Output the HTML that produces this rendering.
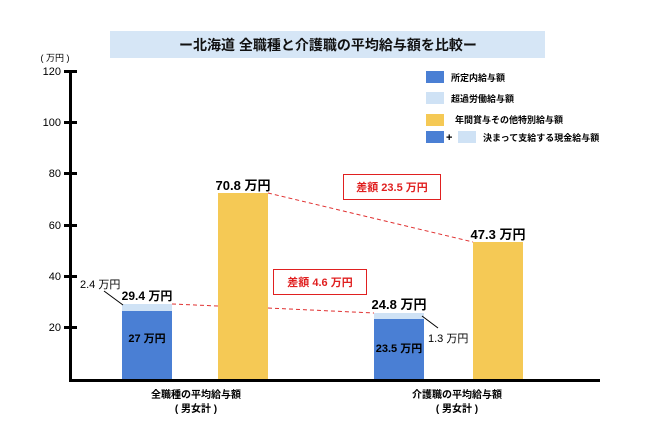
<!DOCTYPE html>
<html><head><meta charset="utf-8"><style>
body{margin:0;background:#fff;width:660px;height:440px;overflow:hidden;font-family:"Liberation Sans","Noto Sans CJK JP",sans-serif}
</style></head><body>
<svg width="660" height="440" xmlns="http://www.w3.org/2000/svg" font-family="Liberation Sans, Noto Sans CJK JP, sans-serif" font-weight="bold">
<rect x="110" y="31" width="435" height="27" fill="#d6e6f6"/>
<text x="328" y="50" font-size="14" text-anchor="middle" fill="#111">ー北海道 全職種と介護職の平均給与額を比較ー</text>
<text x="55" y="61" font-size="9" text-anchor="middle" font-weight="normal">( 万円 )</text>
<line x1="70.5" y1="71" x2="70.5" y2="381" stroke="#000" stroke-width="3"/>
<line x1="69" y1="380.5" x2="600" y2="380.5" stroke="#000" stroke-width="3"/>
<g stroke="#000" stroke-width="3">
<line x1="64" y1="71.5" x2="77" y2="71.5"/><line x1="64" y1="122.5" x2="77" y2="122.5"/><line x1="64" y1="173.5" x2="77" y2="173.5"/><line x1="64" y1="225.5" x2="77" y2="225.5"/><line x1="64" y1="276.5" x2="77" y2="276.5"/><line x1="64" y1="327.5" x2="77" y2="327.5"/></g>
<g font-size="11" font-weight="normal" text-anchor="end">
<text x="61" y="75">120</text><text x="61" y="126">100</text><text x="61" y="177">80</text><text x="61" y="229">60</text><text x="61" y="280">40</text><text x="61" y="331">20</text></g>
<rect x="122" y="304" width="50" height="75" fill="#cfe2f5"/>
<rect x="122" y="311" width="50" height="68" fill="#4a7fd4"/>
<rect x="218" y="193" width="50" height="186" fill="#f5c955"/>
<rect x="374" y="313" width="50" height="66" fill="#cfe2f5"/>
<rect x="374" y="319" width="50" height="60" fill="#4a7fd4"/>
<rect x="473" y="242" width="50" height="137" fill="#f5c955"/>
<g stroke="#e03030" stroke-dasharray="4,3" stroke-width="1" fill="none">
<line x1="268" y1="193" x2="473" y2="242"/><line x1="172" y1="304" x2="218" y2="306"/><line x1="268" y1="308" x2="374" y2="313"/></g>
<rect x="343.5" y="174.5" width="97" height="25" fill="#fff" stroke="#e02020"/>
<text x="392" y="191" font-size="11" fill="#e02020" text-anchor="middle">差額 23.5 万円</text>
<rect x="273.5" y="269.5" width="93" height="25" fill="#fff" stroke="#e02020"/>
<text x="320" y="286" font-size="11" fill="#e02020" text-anchor="middle">差額 4.6 万円</text>
<text x="243" y="190" font-size="13" text-anchor="middle">70.8 万円</text>
<text x="498" y="239" font-size="13" text-anchor="middle">47.3 万円</text>
<text x="147" y="300" font-size="12" text-anchor="middle">29.4 万円</text>
<text x="399" y="309" font-size="13" text-anchor="middle">24.8 万円</text>
<text x="80" y="288" font-size="11" font-weight="normal">2.4 万円</text>
<line x1="104" y1="291" x2="123" y2="305" stroke="#000"/>
<text x="428" y="342" font-size="11" font-weight="normal">1.3 万円</text>
<line x1="422" y1="316" x2="438" y2="328" stroke="#000"/>
<text x="147" y="342" font-size="11" text-anchor="middle">27 万円</text>
<text x="399" y="352" font-size="11" text-anchor="middle">23.5 万円</text>
<g font-size="10" text-anchor="middle">
<text x="196" y="398">全職種の平均給与額</text><text x="196" y="412">( 男女計 )</text>
<text x="457" y="398">介護職の平均給与額</text><text x="457" y="412">( 男女計 )</text></g>
<rect x="426" y="71" width="18" height="12" fill="#4a7fd4"/>
<rect x="426" y="92" width="18" height="12" fill="#cfe2f5"/>
<rect x="426" y="114" width="18" height="12" fill="#f5c955"/>
<rect x="426" y="131" width="18" height="12" fill="#4a7fd4"/>
<rect x="458" y="131" width="18" height="12" fill="#cfe2f5"/>
<g font-size="9">
<text x="451" y="81">所定内給与額</text>
<text x="451" y="102">超過労働給与額</text>
<text x="455" y="123">年間賞与その他特別給与額</text>
<text x="446" y="141" font-size="11">+</text>
<text x="483" y="141">決まって支給する現金給与額</text></g>
</svg>
</body></html>
